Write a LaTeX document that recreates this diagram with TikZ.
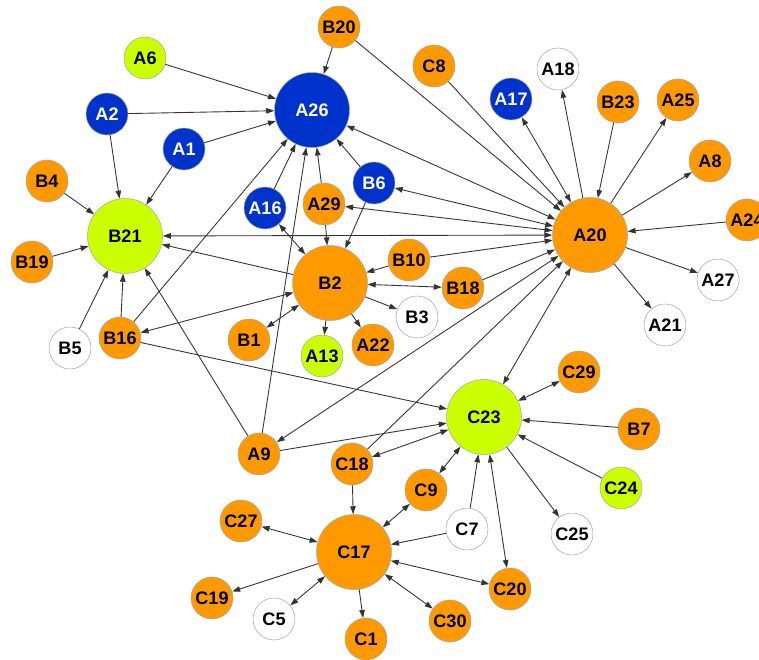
\documentclass[tikz,border=0pt]{standalone}
\usepackage{fontspec}
\setmainfont{Liberation Sans}
\usetikzlibrary{arrows.meta}
\definecolor{orng}{RGB}{255,153,0}
\definecolor{lime}{RGB}{204,255,0}
\definecolor{blu}{RGB}{0,51,204}
\tikzset{every node/.style={circle,draw=gray!70,line width=0.3pt,minimum size=8.4mm,inner sep=0pt,font=\fontsize{10.3}{12}\selectfont\bfseries},
  org/.style={fill=orng},
  lim/.style={fill=lime},
  blu/.style={fill=blu,text=white},
  wht/.style={fill=white},
  big/.style={minimum size=15mm},
  every edge/.style={draw},
  >={Triangle[length=1.6mm,width=1.1mm]}}

\begin{document}
\begin{tikzpicture}[x=0.02cm,y=-0.02cm,line width=0.5pt,draw=black!80]
      \useasboundingbox (0,0) rectangle (759,659);
      \node[org] (B20) at (339,27) {B20};
      \node[lim] (A6) at (145,58) {A6};
      \node[blu,big] (A26) at (312,110) {A26};
      \node[blu] (A2) at (107,114) {A2};
      \node[blu] (A1) at (184,149) {A1};
      \node[org] (B4) at (47,181) {B4};
      \node[lim,big] (B21) at (125,236) {B21};
      \node[org] (B19) at (32,262) {B19};
      \node[blu] (A16) at (265,208) {A16};
      \node[org] (A29) at (324,204) {A29};
      \node[blu] (B6) at (374,183) {B6};
      \node[org,big] (B2) at (330,283) {B2};
      \node[org] (B10) at (409,260) {B10};
      \node[org] (B18) at (463,288) {B18};
      \node[wht] (B3) at (417,317) {B3};
      \node[org] (B1) at (249,340) {B1};
      \node[lim] (A13) at (322,356) {A13};
      \node[org] (A22) at (373,345) {A22};
      \node[org] (B16) at (120,338) {B16};
      \node[wht] (B5) at (70,348) {B5};
      \node[org] (A9) at (259,454) {A9};

      \node[org] (C8) at (434,66) {C8};
      \node[blu] (A17) at (511,99) {A17};
      \node[wht] (A18) at (558,69) {A18};
      \node[org] (B23) at (618,102) {B23};
      \node[org] (A25) at (678,100) {A25};
      \node[org] (A8) at (710,161) {A8};
      \node[org,big] (A20) at (590,235) {A20};
      \node[org] (A24) at (747,220) {A24};
      \node[wht] (A27) at (718,280) {A27};
      \node[wht] (A21) at (665,325) {A21};

      \node[org] (C29) at (579,372) {C29};
      \node[lim,big] (C23) at (484,417) {C23};
      \node[org] (B7) at (639,429) {B7};
      \node[lim] (C24) at (621,488) {C24};
      \node[wht] (C25) at (572,534) {C25};
      \node[wht] (C7) at (467,529) {C7};
      \node[org] (C9) at (426,490) {C9};
      \node[org] (C18) at (352,464) {C18};
      \node[org,big] (C17) at (354,552) {C17};
      \node[org] (C27) at (241,521) {C27};
      \node[org] (C19) at (212,598) {C19};
      \node[wht] (C5) at (274,619) {C5};
      \node[org] (C1) at (366,639) {C1};
      \node[org] (C30) at (450,621) {C30};
      \node[org] (C20) at (510,589) {C20};

      % into A26
      \draw[->] (A6) -- (A26);
      \draw[->] (A2) -- (A26);
      \draw[->] (A1) -- (A26);
      \draw[->] (B20) -- (A26);
      \draw[->] (B6) -- (A26);
      \draw[->] (A29) -- (A26);
      \draw[->] (A16) -- (A26);
      \draw[->] (B16) -- (A26);
      \draw[->] (A9) -- (A26);

      % into B21
      \draw[->] (A2) -- (B21);
      \draw[->] (A1) -- (B21);
      \draw[->] (B4) -- (B21);
      \draw[->] (B19) -- (B21);
      \draw[->] (B5) -- (B21);
      \draw[->] (B16) -- (B21);
      \draw[->] (B2) -- (B21);
      \draw[->] (A9) -- (B21);

      % round B2
      \draw[<->] (A16) -- (B2);
      \draw[<->] (B16) -- (B2);
      \draw[<->] (B1) -- (B2);
      \draw[<->] (B18) -- (B2);
      \draw[->] (A29) -- (B2);
      \draw[->] (B6) -- (B2);
      \draw[->] (B10) -- (B2);
      \draw[->] (B2) -- (A13);
      \draw[->] (B2) -- (A22);
      \draw[->] (B2) -- (B3);

      % round A20
      \draw[->] (B20) -- (A20);
      \draw[->] (C8) -- (A20);
      \draw[->] (B23) -- (A20);
      \draw[->] (A24) -- (A20);
      \draw[->] (B10) -- (A20);
      \draw[->] (B18) -- (A20);
      \draw[->] (C18) -- (A20);
      \draw[<->] (A26) -- (A20);
      \draw[<->] (B6) -- (A20);
      \draw[<->] (A29) -- (A20);
      \draw[<->] (B21) -- (A20);
      \draw[<->] (A17) -- (A20);
      \draw[<->] (A9) -- (A20);
      \draw[<->] (C23) -- (A20);
      \draw[->] (A20) -- (A18);
      \draw[->] (A20) -- (A25);
      \draw[->] (A20) -- (A8);
      \draw[->] (A20) -- (A27);
      \draw[->] (A20) -- (A21);

      % round C23
      \draw[->] (B16) -- (C23);
      \draw[->] (A9) -- (C23);
      \draw[<->] (C18) -- (C23);
      \draw[<->] (C9) -- (C23);
      \draw[->] (C7) -- (C23);
      \draw[<->] (C20) -- (C23);
      \draw[<->] (C29) -- (C23);
      \draw[->] (B7) -- (C23);
      \draw[->] (C24) -- (C23);
      \draw[->] (C23) -- (C25);

      % round C17
      \draw[->] (C18) -- (C17);
      \draw[<->] (C9) -- (C17);
      \draw[->] (C7) -- (C17);
      \draw[<->] (C20) -- (C17);
      \draw[<->] (C30) -- (C17);
      \draw[<->] (C27) -- (C17);
      \draw[->] (C17) -- (C19);
      \draw[<->] (C5) -- (C17);
      \draw[->] (C17) -- (C1);
    \end{tikzpicture}
\end{document}
